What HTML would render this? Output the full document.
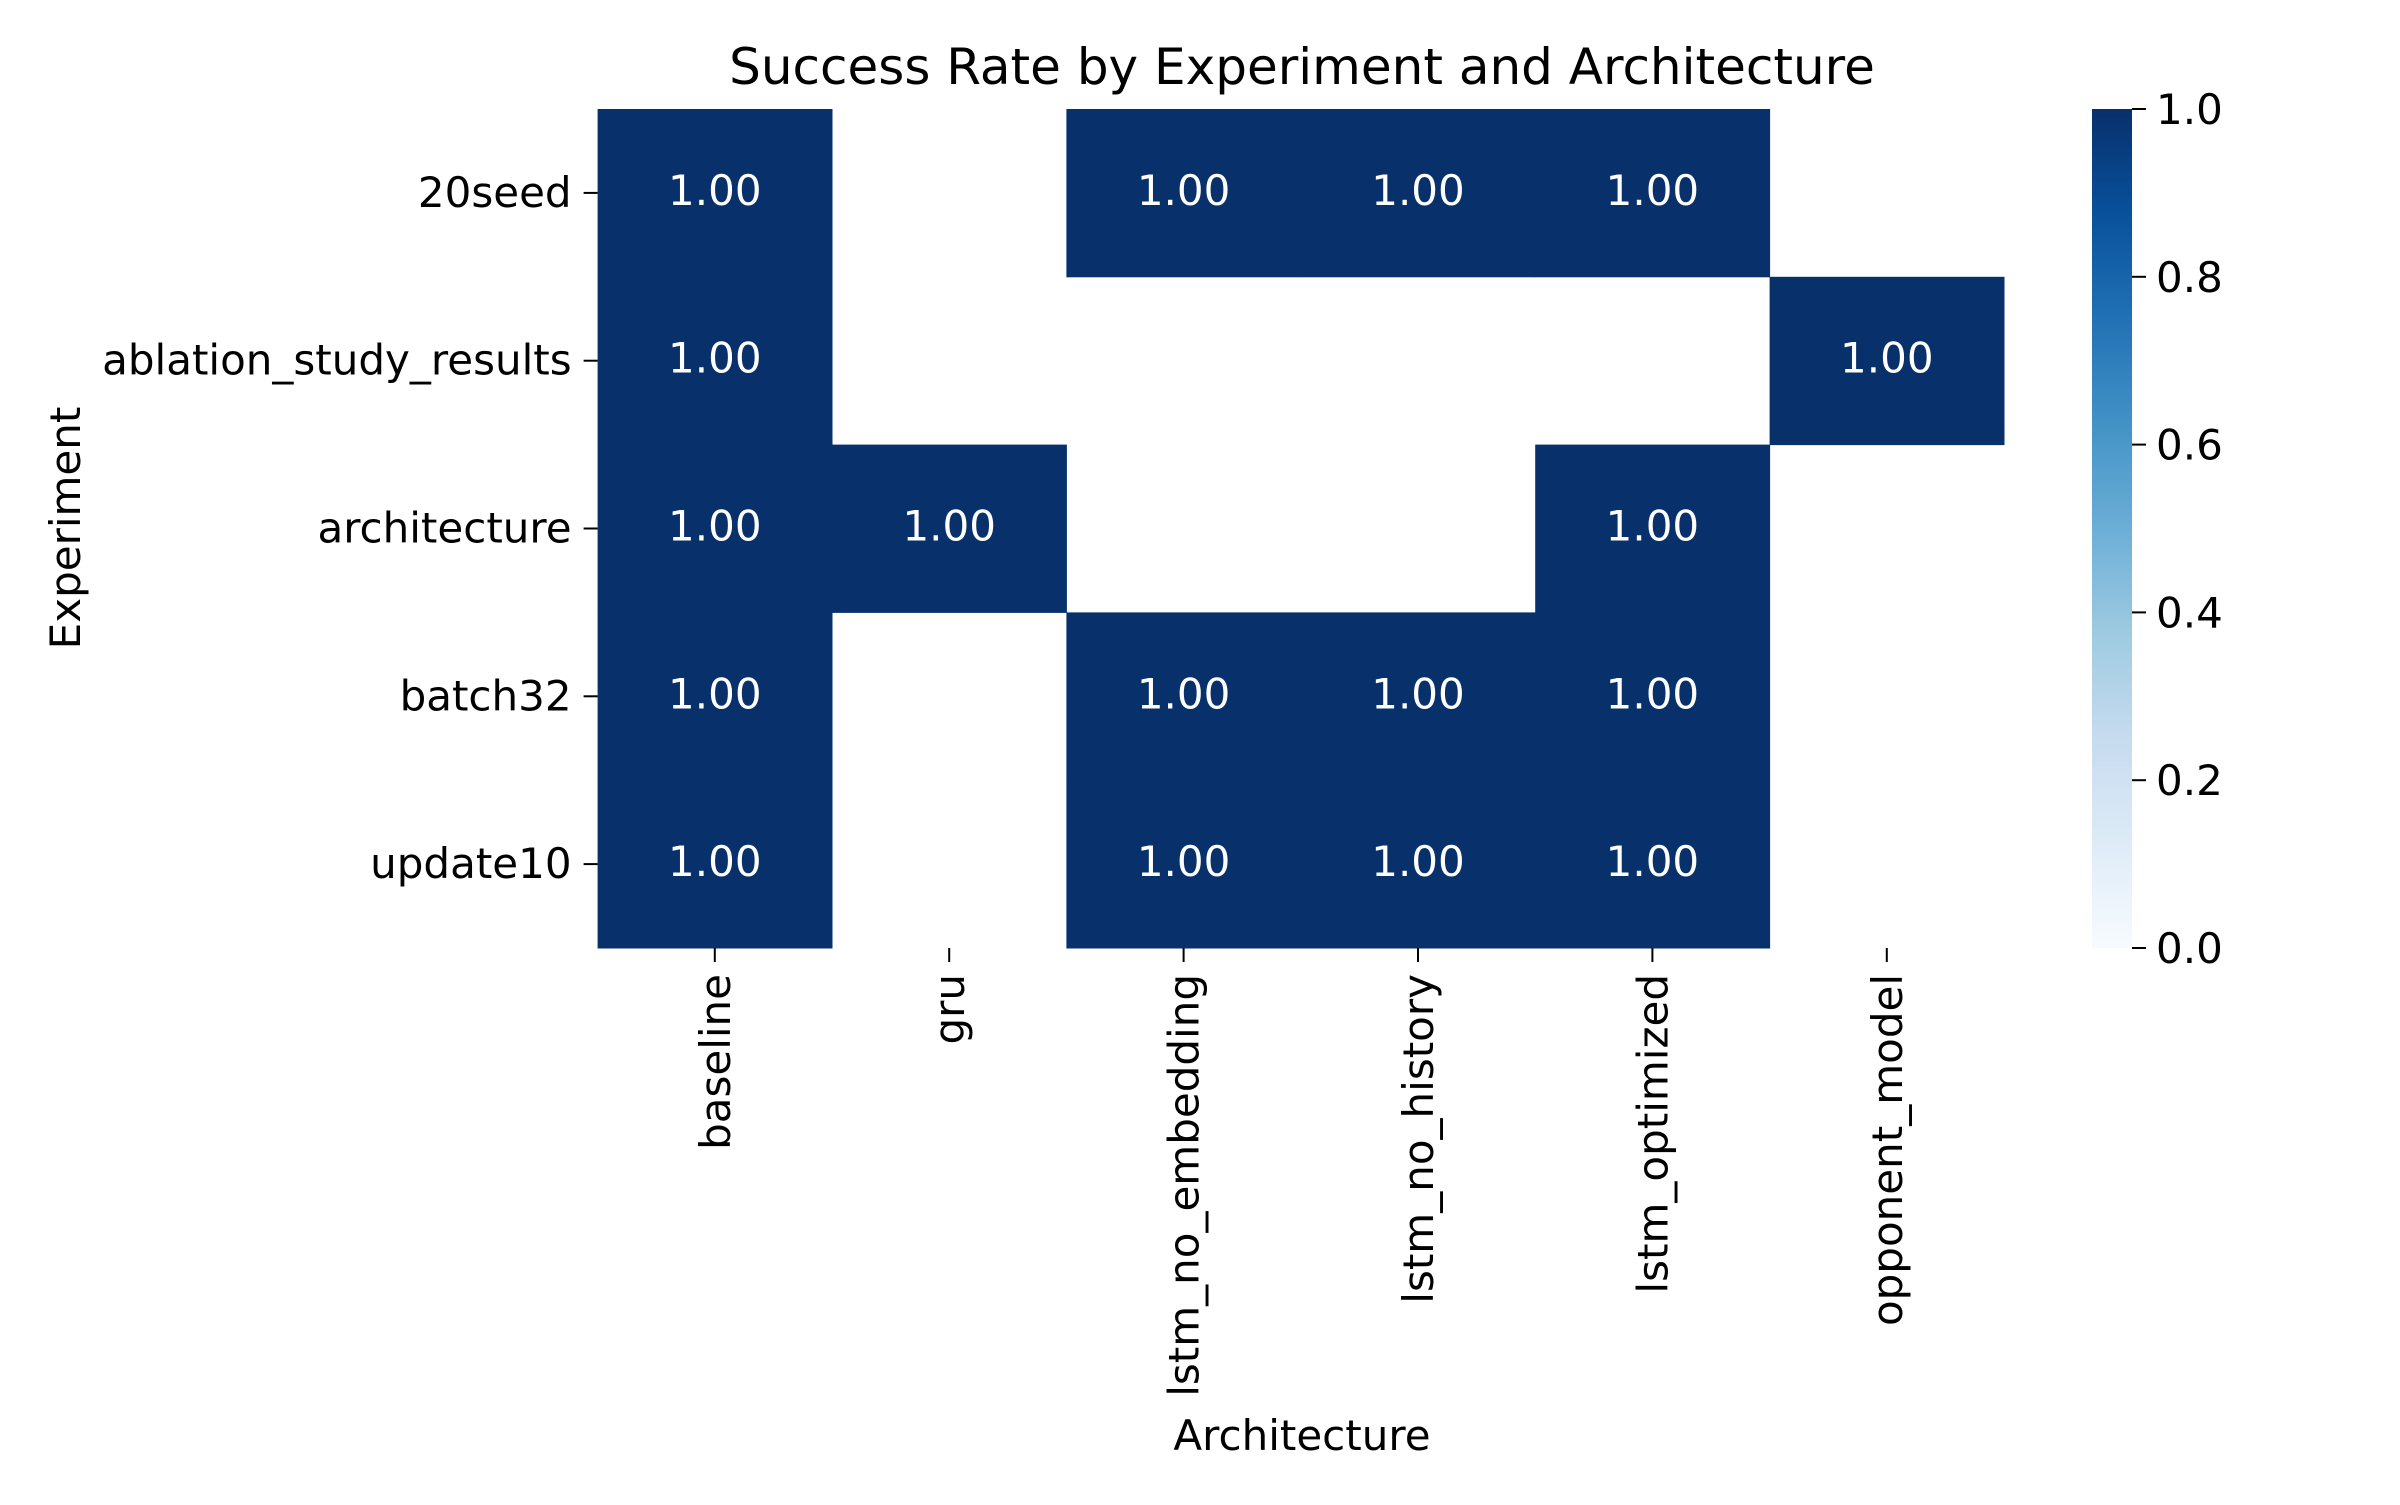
<!DOCTYPE html>
<html><head><meta charset="utf-8"><style>
body{margin:0;background:#fff;}
svg text{font-family:"DejaVu Sans","Liberation Sans",sans-serif;}
</style></head><body>
<svg id="chart" width="2400" height="1500" xmlns="http://www.w3.org/2000/svg">
<defs><linearGradient id="blues" x1="0" y1="1" x2="0" y2="0">
<stop offset="0" stop-color="#f7fbff"/><stop offset="0.125" stop-color="#deebf7"/><stop offset="0.25" stop-color="#c6dbef"/><stop offset="0.375" stop-color="#9ecae1"/><stop offset="0.5" stop-color="#6baed6"/><stop offset="0.625" stop-color="#4292c6"/><stop offset="0.75" stop-color="#2171b5"/><stop offset="0.875" stop-color="#08519c"/><stop offset="1" stop-color="#08306b"/>
</linearGradient></defs>
<text x="1302" y="84" font-size="50" text-anchor="middle">Success Rate by Experiment and Architecture</text>
<g id="cells"></g>
<g id="yticks"></g>
<g id="xticks"></g>
<text transform="translate(80,528) rotate(-90)" font-size="42" text-anchor="middle">Experiment</text>
<text x="1302" y="1450" font-size="42" text-anchor="middle">Architecture</text>
<rect x="2092" y="109" width="40" height="839" fill="url(#blues)"/>
<g id="cbticks"></g>
</svg>
<script>
const rows = ["20seed","ablation_study_results","architecture","batch32","update10"];
const cols = ["baseline","gru","lstm_no_embedding","lstm_no_history","lstm_optimized","opponent_model"];
const values = [
 [1,null,1,1,1,null],
 [1,null,null,null,null,1],
 [1,1,null,null,1,null],
 [1,null,1,1,1,null],
 [1,null,1,1,1,null]
];
const cbTicks = [0,0.2,0.4,0.6,0.8,1.0];
const NS="http://www.w3.org/2000/svg";
const L=597.6,R=2004,T=109,B=948;
const cw=(R-L)/cols.length, ch=(B-T)/rows.length;
const xs=i=>L+i*cw, ys=j=>T+j*ch;
const cbY=v=>B-v*(B-T);
function mk(tag,attrs,parent,txt){const e=document.createElementNS(NS,tag);for(const k in attrs)e.setAttribute(k,attrs[k]);if(txt!==undefined)e.textContent=txt;parent.appendChild(e);return e;}
const cells=document.getElementById('cells'),yt=document.getElementById('yticks'),xt=document.getElementById('xticks'),cb=document.getElementById('cbticks');
function color(v){return v>=0.999?'#08306b':'#6baed6';}
values.forEach((row,j)=>row.forEach((v,i)=>{
 if(v===null)return;
 const r=mk('rect',{x:xs(i),y:ys(j),width:cw+0.5,height:ch+0.5,fill:color(v)},cells);
 
 
 const t=mk('text',{x:xs(i)+cw/2,y:ys(j)+ch/2+12,'font-size':42,fill:'#fff','text-anchor':'middle'},cells,v.toFixed(2));
 
 
}));
rows.forEach((r,j)=>{
 const y=ys(j)+ch/2;
 mk('line',{x1:L-14,x2:L,y1:y,y2:y,stroke:'#000','stroke-width':2},yt);
 const t=mk('text',{x:L-26,y:y+14,'font-size':42,'text-anchor':'end'},yt,r);
 
 
});
cols.forEach((c,i)=>{
 const x=xs(i)+cw/2;
 mk('line',{x1:x,x2:x,y1:B,y2:B+14,stroke:'#000','stroke-width':2},xt);
 const t=mk('text',{transform:`translate(${x+15},${B+26}) rotate(-90)`,'font-size':42,'text-anchor':'end'},xt,c);
 
 
});
cbTicks.forEach(v=>{
 const y=cbY(v);
 mk('line',{x1:2132,x2:2146,y1:y,y2:y,stroke:'#000','stroke-width':2},cb);
 const t=mk('text',{x:2156,y:y+15,'font-size':42},cb,v.toFixed(1));
 
 
});
</script>
</body></html>
